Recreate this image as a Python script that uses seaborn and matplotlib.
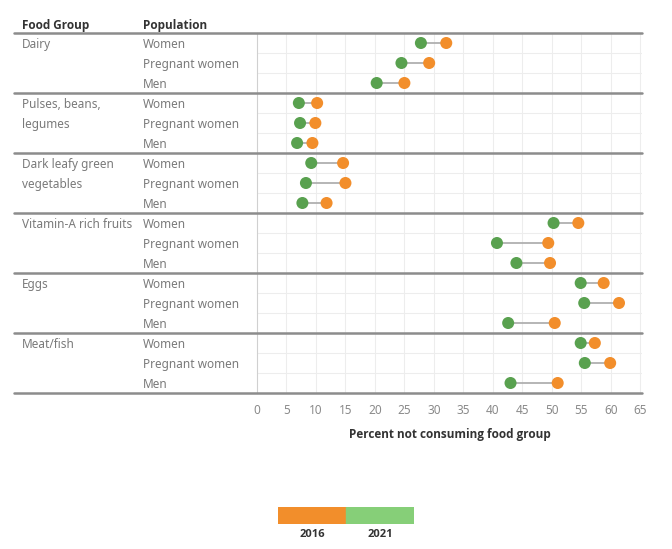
import pandas as pd
import matplotlib.pyplot as plt
import matplotlib.transforms as mtransforms
from matplotlib.patches import Rectangle
import seaborn as sns

# data
food_groups = ['Dairy', 'Pulses, beans,\nlegumes', 'Dark leafy green\nvegetables',
               'Vitamin-A rich fruits', 'Eggs', 'Meat/fish']
populations = ['Women', 'Pregnant women', 'Men']
val_2016 = [32.1, 29.2, 25.0,
            10.2, 9.9, 9.4,
            14.6, 15.0, 11.8,
            54.5, 49.4, 49.7,
            58.8, 61.4, 50.5,
            57.3, 59.9, 51.0]
val_2021 = [27.8, 24.5, 20.3,
            7.1, 7.3, 6.8,
            9.2, 8.3, 7.7,
            50.3, 40.7, 44.0,
            54.9, 55.5, 42.6,
            54.9, 55.6, 43.0]
years = ['2016', '2021']
x_ticks = list(range(0, 70, 5))

rows = []
for i, (a, b) in enumerate(zip(val_2016, val_2021)):
    rows.append({'row': i, 'year': '2016', 'value': a})
    rows.append({'row': i, 'year': '2021', 'value': b})
df = pd.DataFrame(rows)

sns.set_style('white')
plt.rcParams['font.family'] = ['Noto Sans', 'DejaVu Sans']
bold_font = ['Open Sans', 'DejaVu Sans']

col_2016 = '#f28e2b'
col_2021 = '#59a14f'
sep_col = '#8c8c8c'
txt_col = '#7a7a7a'

fig = plt.figure(figsize=(6.72, 5.49), dpi=100)
ax = fig.add_axes([257 / 672, 1 - 393 / 549, 385 / 672, 360 / 549])

# connecting lines
for i, (a, b) in enumerate(zip(val_2016, val_2021)):
    ax.plot([b, a], [i, i], color='#b0b0b0', lw=1.3, zorder=2)

sns.scatterplot(data=df, x='value', y='row', hue='year', hue_order=years,
                palette={'2016': col_2016, '2021': col_2021},
                s=75, edgecolor='none', legend=False, zorder=3, ax=ax)

n = len(val_2016)
ax.set_xlim(0, 65.3)
ax.set_ylim(n - 0.5, -0.5)
ax.set_xticks(x_ticks)
ax.set_xticklabels([str(t) for t in x_ticks], color='#8a8a8a', fontsize=8.5)
ax.set_yticks([])
ax.set_ylabel('')
ax.set_xlabel('Percent not consuming food group', fontsize=8.5, fontweight='bold',
              family=bold_font, color='#333333', labelpad=8)
ax.tick_params(axis='x', length=0, pad=8)

# faint grid
for t in x_ticks[1:]:
    ax.axvline(t, color='#ededed', lw=0.8, zorder=0)
for k in range(n):
    if k % 3 != 0:
        ax.axhline(k - 0.5, color='#ededed', lw=0.8, zorder=0)

for s in ['top', 'right', 'bottom']:
    ax.spines[s].set_visible(False)
ax.spines['left'].set_color('#d0d0d0')
ax.spines['left'].set_linewidth(0.8)

# row labels and separators
trans = mtransforms.blended_transform_factory(ax.transAxes, ax.transData)
x_start = (14 - 257) / 385
x_food = (22 - 257) / 385
x_pop = (143 - 257) / 385
dy = 0.08
for g in range(len(food_groups) + 1):
    ax.plot([x_start, 1], [g * 3 - 0.5] * 2, transform=trans, color=sep_col,
            lw=1.8, clip_on=False, zorder=4)
for g, name in enumerate(food_groups):
    for j, part in enumerate(name.split('\n')):
        ax.text(x_food, g * 3 + j + dy, part, transform=trans, ha='left',
                va='center', fontsize=8.5, color=txt_col)
for i in range(n):
    ax.text(x_pop, i + dy, populations[i % 3], transform=trans, ha='left',
            va='center', fontsize=8.5, color=txt_col)

ax.text(x_food, -0.88, 'Food Group', transform=trans, ha='left', va='center',
        fontsize=8.5, fontweight='bold', family=bold_font, color='#333333')
ax.text(x_pop, -0.88, 'Population', transform=trans, ha='left', va='center',
        fontsize=8.5, fontweight='bold', family=bold_font, color='#333333')

# colour legend
lax = fig.add_axes([278 / 672, 1 - 524 / 549, 136 / 672, 17 / 549])
leg_cols = [col_2016, '#86cf78']
for k, (yr, c) in enumerate(zip(years, leg_cols)):
    lax.add_patch(Rectangle((k, 0), 1, 1, color=c))
    lax.text(k + 0.5, -0.3, yr, ha='center', va='top', fontsize=8,
             fontweight='bold', family=bold_font, color='#333333')
lax.set_xlim(0, 2)
lax.set_ylim(0, 1)
lax.axis('off')

fig.savefig('out.png', dpi=100)
